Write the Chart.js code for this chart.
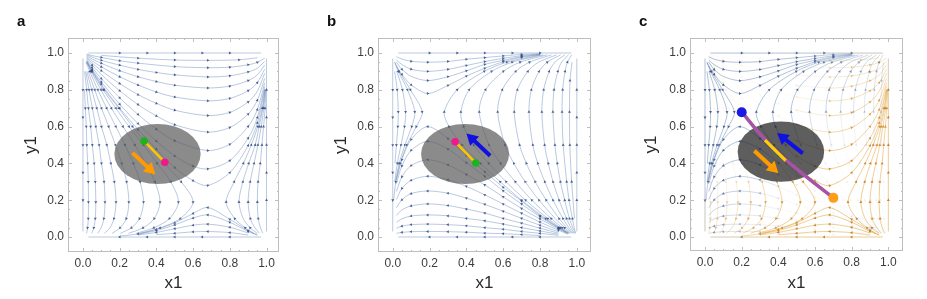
<!DOCTYPE html>
<html lang="en">
<head>
<meta charset="UTF-8">
<style>
  html, body { margin: 0; padding: 0; background: #fff; overflow: hidden; }
  .panel { position: absolute; top: 0; width: 300px; height: 299px; }
  .tag { position: absolute; top: 12px; font: bold 15px "Liberation Sans", Arial, sans-serif; color: #111; }
</style>
<title>Stream plots</title>
</head>
<body>
<div class="panel" style="left:0px"><canvas id="chartA"></canvas></div>
<div class="panel" style="left:310px"><canvas id="chartB"></canvas></div>
<div class="panel" style="left:620px"><canvas id="chartC"></canvas></div>
<div class="tag" style="left:17px">a</div>
<div class="tag" style="left:327px">b</div>
<div class="tag" style="left:639px">c</div>

<script src="https://cdn.jsdelivr.net/npm/chart.js"></script>
<script>
// ---- data ----
const tickValues = [0, 0.2, 0.4, 0.6, 0.8, 1.0];

// streamlines of panel a, each listed in the direction of flow
const streamsA = [
  [[0.03, 1], [0.2, 1], [0.35, 1], [0.5, 1], [0.65, 1], [0.8, 1], [0.97, 1]],
  [[0, 0.97], [0, 0.8], [0, 0.65], [0, 0.5], [0, 0.35], [0, 0.2], [0, 0.03]],
  [[1, 0.03], [1, 0.2], [1, 0.35], [1, 0.5], [1, 0.65], [1, 0.8], [1, 0.97]],
  [[0.97, 0], [0.8, 0], [0.65, 0], [0.5, 0], [0.35, 0], [0.2, 0], [0.03, 0]],
  // upper bowls
  [[0.1, 0.987], [0.3, 0.972], [0.5, 0.962], [0.68, 0.96], [0.85, 0.963], [0.95, 0.974]],
  [[0.02, 0.994], [0.05, 0.986], [0.1, 0.976], [0.2, 0.958], [0.3, 0.945], [0.5, 0.926], [0.68, 0.92], [0.8, 0.923], [0.9, 0.936], [0.95, 0.949], [0.99, 0.972]],
  [[0.02, 0.99], [0.05, 0.978], [0.1, 0.96], [0.2, 0.934], [0.3, 0.911], [0.4, 0.894], [0.5, 0.881], [0.68, 0.87], [0.8, 0.876], [0.9, 0.897], [0.95, 0.917], [0.99, 0.955]],
  [[0.02, 0.985], [0.05, 0.968], [0.1, 0.944], [0.2, 0.904], [0.3, 0.871], [0.4, 0.845], [0.5, 0.825], [0.68, 0.81], [0.8, 0.82], [0.9, 0.85], [0.95, 0.881], [0.99, 0.935]],
  [[0.02, 0.98], [0.05, 0.957], [0.1, 0.925], [0.2, 0.871], [0.3, 0.826], [0.4, 0.788], [0.5, 0.761], [0.68, 0.74], [0.8, 0.753], [0.9, 0.795], [0.95, 0.839], [0.99, 0.912]],
  [[0.02, 0.975], [0.05, 0.946], [0.1, 0.904], [0.2, 0.834], [0.3, 0.774], [0.4, 0.726], [0.5, 0.689], [0.68, 0.66], [0.8, 0.677], [0.9, 0.734], [0.95, 0.792], [0.99, 0.89]],
  [[0.02, 0.969], [0.05, 0.934], [0.1, 0.883], [0.2, 0.795], [0.3, 0.72], [0.4, 0.658], [0.5, 0.61], [0.68, 0.57], [0.8, 0.595], [0.9, 0.668], [0.95, 0.743], [0.99, 0.862]],
  [[0.02, 0.963], [0.05, 0.921], [0.1, 0.861], [0.2, 0.756], [0.3, 0.666], [0.4, 0.586], [0.5, 0.523], [0.68, 0.47], [0.8, 0.504], [0.9, 0.601], [0.95, 0.692], [0.99, 0.838]],
  [[0.02, 0.958], [0.05, 0.911], [0.1, 0.843], [0.2, 0.722], [0.3, 0.616], [0.4, 0.521], [0.5, 0.44], [0.6, 0.385], [0.68, 0.37], [0.8, 0.415], [0.9, 0.537], [0.95, 0.649], [0.99, 0.818]],
  [[0.02, 0.955], [0.05, 0.905], [0.1, 0.831], [0.2, 0.70], [0.3, 0.584], [0.4, 0.477], [0.5, 0.377], [0.6, 0.306], [0.68, 0.28], [0.8, 0.35], [0.9, 0.497], [0.95, 0.62], [0.99, 0.805]],
  // left arcs, running down
  [[0.008, 0.8], [0.013, 0.7], [0.018, 0.6], [0.021, 0.5], [0.026, 0.4], [0.029, 0.3], [0.03, 0.19], [0.029, 0.1], [0.025, 0.05], [0.02, 0.02]],
  [[0.009, 0.9], [0.02, 0.8], [0.03, 0.7], [0.042, 0.6], [0.051, 0.5], [0.061, 0.4], [0.067, 0.3], [0.07, 0.19], [0.067, 0.1], [0.059, 0.05], [0.048, 0.02]],
  [[0.015, 0.9], [0.033, 0.8], [0.051, 0.7], [0.07, 0.6], [0.088, 0.5], [0.101, 0.4], [0.115, 0.3], [0.12, 0.19], [0.114, 0.1], [0.099, 0.05], [0.08, 0.02]],
  [[0.021, 0.9], [0.048, 0.8], [0.075, 0.7], [0.101, 0.6], [0.13, 0.5], [0.152, 0.4], [0.171, 0.3], [0.18, 0.19], [0.169, 0.1], [0.147, 0.05], [0.117, 0.02]],
  [[0.028, 0.9], [0.064, 0.8], [0.101, 0.7], [0.14, 0.6], [0.177, 0.5], [0.211, 0.4], [0.238, 0.3], [0.25, 0.19], [0.236, 0.1], [0.202, 0.05], [0.159, 0.02]],
  [[0.016, 0.95], [0.037, 0.9], [0.081, 0.8], [0.129, 0.7], [0.179, 0.6], [0.229, 0.5], [0.275, 0.4], [0.311, 0.3], [0.33, 0.19], [0.308, 0.1], [0.264, 0.05], [0.204, 0.02]],
  [[0.019, 0.95], [0.044, 0.9], [0.098, 0.8], [0.155, 0.7], [0.218, 0.6], [0.283, 0.5], [0.34, 0.4], [0.392, 0.3], [0.42, 0.19], [0.388, 0.1], [0.327, 0.05], [0.248, 0.02]],
  [[0.021, 0.95], [0.048, 0.9], [0.11, 0.8], [0.179, 0.7], [0.251, 0.6], [0.33, 0.5], [0.404, 0.4], [0.478, 0.3], [0.52, 0.19], [0.471, 0.1], [0.386, 0.05], [0.29, 0.02]],
  [[0.022, 0.95], [0.051, 0.9], [0.116, 0.8], [0.195, 0.7], [0.27, 0.6], [0.354, 0.5], [0.443, 0.4], [0.535, 0.3], [0.6, 0.19], [0.53, 0.1], [0.42, 0.05], [0.31, 0.02]],
  // right arcs, running up
  [[0.98, 0.02], [0.967, 0.05], [0.955, 0.1], [0.95, 0.19], [0.954, 0.3], [0.966, 0.4], [0.975, 0.5], [0.984, 0.6], [0.992, 0.7], [0.996, 0.8]],
  [[0.962, 0.02], [0.937, 0.05], [0.912, 0.1], [0.9, 0.19], [0.911, 0.3], [0.932, 0.4], [0.953, 0.5], [0.971, 0.6], [0.985, 0.7], [0.994, 0.8]],
  [[0.95, 0.02], [0.911, 0.05], [0.873, 0.1], [0.85, 0.19], [0.871, 0.3], [0.903, 0.4], [0.938, 0.5], [0.96, 0.6], [0.98, 0.7], [0.992, 0.8]],
  [[0.93, 0.02], [0.884, 0.05], [0.827, 0.1], [0.78, 0.19], [0.824, 0.3], [0.874, 0.4], [0.917, 0.5], [0.952, 0.6], [0.976, 0.7], [0.991, 0.8]],
  // lower arches, running left
  [[0.95, 0.012], [0.9, 0.035], [0.8, 0.096], [0.68, 0.16], [0.6, 0.128], [0.5, 0.077], [0.4, 0.041], [0.3, 0.017], [0.2, 0.005]],
  [[0.95, 0.01], [0.9, 0.03], [0.8, 0.08], [0.68, 0.12], [0.6, 0.103], [0.5, 0.066], [0.4, 0.035], [0.3, 0.015]],
  [[0.9, 0.022], [0.8, 0.053], [0.68, 0.07], [0.6, 0.064], [0.5, 0.045], [0.4, 0.025], [0.3, 0.011]],
  [[0.9, 0.0105], [0.8, 0.024], [0.68, 0.03], [0.6, 0.028], [0.5, 0.02], [0.4, 0.0125]]
];
// panel b shows the same field mirrored about the diagonal y = x
const streamsB = streamsA.map(line => line.map(([x, y]) => [y, x]));

// grey ellipses: centre x, centre y, half width, half height
const ellipseA = [0.406, 0.451, 0.235, 0.163];
const ellipseB = [0.393, 0.451, 0.239, 0.163];
const ellipseC = [0.414, 0.464, 0.236, 0.164];

const dotsA = [[0.333, 0.522], [0.446, 0.406]];     // green, magenta
const arrowA = [[0.27, 0.457], [0.365, 0.368]];      // tail, head
const dotsB = [[0.339, 0.518], [0.451, 0.402]];     // magenta, green
const arrowB = [[0.529, 0.442], [0.43, 0.535]];
const saddleBlue = [0.2, 0.678];
const saddleOrange = [0.70, 0.213];
const pathC = [[0.2, 0.68], [0.3, 0.56], [0.4, 0.455], [0.5, 0.37], [0.6, 0.29], [0.7, 0.213]];
const segmentC = [[0.327, 0.527], [0.44, 0.415]];
const arrowCBlue = [[0.533, 0.455], [0.425, 0.54]];
const arrowCOrange = [[0.269, 0.469], [0.37, 0.375]];

// ---- drawing ----
Chart.defaults.font.family = '"Liberation Sans", Arial, sans-serif';

const BLUE = '94,129,181', BLUE_DARK = '52,78,135';
const ORANGE = '225,156,36', ORANGE_DARK = '205,125,20';
const ARROW_GAP = 0.085;   // spacing of the little arrowheads along a streamline

function heading(line, i) {
  const p = line[Math.max(i - 1, 0)], q = line[Math.min(i + 1, line.length - 1)];
  return Math.atan2(q[0] - p[0], q[1] - p[1]) * 180 / Math.PI;
}

// marks the points at which a new arrowhead is due, spaced by arc length
function arrowMarks(line) {
  const marks = line.map(() => false);
  let s = 0;
  for (let i = 1; i < line.length - 1; i++) {
    const prev = s;
    s += Math.hypot(line[i][0] - line[i - 1][0], line[i][1] - line[i - 1][1]);
    if (Math.floor((s + ARROW_GAP / 2) / ARROW_GAP) > Math.floor((prev + ARROW_GAP / 2) / ARROW_GAP)) marks[i] = true;
  }
  return marks;
}

function blueShare(x, y) {
  const db = (x - saddleBlue[0]) ** 2 + (y - saddleBlue[1]) ** 2;
  const dor = (x - saddleOrange[0]) ** 2 + (y - saddleOrange[1]) ** 2;
  return dor * dor / (db * db + dor * dor);
}

function streamSets(lines, rgb, dark, weight) {
  return lines.map(line => {
    const marks = arrowMarks(line);
    const ds = {
      data: line.map(([x, y]) => ({ x, y })),
      showLine: true,
      tension: 0.3,
      borderWidth: 0.7,
      borderColor: `rgba(${rgb},0.62)`,
      pointStyle: 'triangle',
      pointBorderWidth: 0,
      pointRadius: c => marks[c.dataIndex] ? 1.7 : 0,
      pointRotation: c => heading(line, c.dataIndex),
      pointBackgroundColor: c => {
        const p = line[c.dataIndex];
        const a = weight ? 0.06 + 0.8 * weight(p[0], p[1]) : 0.85;
        return `rgba(${dark},${a.toFixed(3)})`;
      },
      order: 10
    };
    if (weight) {
      ds.segment = {
        borderColor: c => {
          const p = line[c.p0DataIndex], q = line[c.p1DataIndex];
          const a = 0.05 + 0.65 * weight((p[0] + q[0]) / 2, (p[1] + q[1]) / 2);
          return `rgba(${rgb},${a.toFixed(3)})`;
        }
      };
    }
    return ds;
  });
}

function lineSet(points, color, width, order) {
  return {
    data: points.map(([x, y]) => ({ x, y })),
    showLine: true, tension: 0.4, borderColor: color, borderWidth: width,
    pointRadius: 0, order: order, overlay: true
  };
}

function dotSet(points, colors, radius) {
  return {
    data: points.map(([x, y]) => ({ x, y })),
    showLine: false, pointRadius: radius, pointBackgroundColor: colors,
    pointBorderWidth: 0, order: 0, overlay: true
  };
}

function arrowSet(arrow, color) {
  const [t, h] = arrow;
  return {
    data: [{ x: t[0], y: t[1] }, { x: h[0], y: h[1] }],
    showLine: true, borderColor: color, borderWidth: 4, borderCapStyle: 'butt',
    pointRadius: [0, 7.5], pointStyle: 'triangle',
    pointRotation: Math.atan2(h[0] - t[0], h[1] - t[1]) * 180 / Math.PI,
    pointBackgroundColor: color, pointBorderWidth: 0, order: 1, overlay: true
  };
}

const overlayPlugin = {
  id: 'overlay',
  beforeDatasetsDraw(chart) { chart.$ellipseDone = false; },
  beforeDatasetDraw(chart, args, opts) {
    const ds = chart.data.datasets[args.index];
    if (!ds.overlay || chart.$ellipseDone) return;
    chart.$ellipseDone = true;
    const { x: sx, y: sy } = chart.scales;
    const [cx, cy, rx, ry] = opts.ellipse;
    const px = sx.getPixelForValue(cx), py = sy.getPixelForValue(cy);
    const prx = Math.abs(sx.getPixelForValue(cx + rx) - px);
    const pry = Math.abs(sy.getPixelForValue(cy + ry) - py);
    const ctx = chart.ctx;
    ctx.save();
    ctx.beginPath();
    ctx.ellipse(px, py, prx, pry, 0, 0, 2 * Math.PI);
    ctx.fillStyle = opts.fill;
    ctx.fill();
    ctx.restore();
  },
  afterDraw(chart) {
    const { ctx, chartArea: a, scales: { x: sx, y: sy } } = chart;
    ctx.save();
    ctx.strokeStyle = '#bdbdbd';
    ctx.lineWidth = 1;
    ctx.strokeRect(Math.round(a.left) + 0.5, Math.round(a.top) + 0.5,
      Math.round(a.right - a.left) - 1, Math.round(a.bottom - a.top) - 1);
    ctx.beginPath();
    for (let i = 0; i <= 20; i++) {
      const v = i / 20, len = i % 4 === 0 ? 4 : 2;
      const px = Math.round(sx.getPixelForValue(v)) + 0.5;
      const py = Math.round(sy.getPixelForValue(v)) + 0.5;
      ctx.moveTo(px, a.bottom); ctx.lineTo(px, a.bottom - len);
      ctx.moveTo(px, a.top); ctx.lineTo(px, a.top + len);
      ctx.moveTo(a.left, py); ctx.lineTo(a.left + len, py);
      ctx.moveTo(a.right, py); ctx.lineTo(a.right - len, py);
    }
    ctx.stroke();
    ctx.restore();
  }
};

function axis(name, range, size, titlePad) {
  return {
    type: 'linear', min: range[0], max: range[1],
    grid: { display: false, drawTicks: false }, border: { display: false },
    afterBuildTicks: s => { s.ticks = tickValues.map(v => ({ value: v })); },
    afterFit: s => { if (s.isHorizontal()) s.height = size; else s.width = size; },
    ticks: { autoSkip: false, maxRotation: 0, padding: 4, color: '#3c3c3c', font: { size: 12 },
             callback: v => v.toFixed(1) },
    title: { display: true, text: name, color: '#2a2a2a', font: { size: 17 }, padding: titlePad }
  };
}

function makePanel(id, cfg) {
  return new Chart(document.getElementById(id), {
    type: 'scatter',
    data: { datasets: cfg.datasets },
    options: {
      responsive: true, maintainAspectRatio: false, animation: false, events: [],
      layout: { padding: cfg.padding },
      plugins: {
        legend: { display: false }, tooltip: { enabled: false },
        overlay: { ellipse: cfg.ellipse, fill: cfg.fill }
      },
      scales: {
        x: axis('x1', cfg.xRange, cfg.xHeight, { top: 0, bottom: 5 }),
        y: axis('y1', cfg.yRange, cfg.yWidth, { top: 1.5, bottom: 0 })
      }
    },
    plugins: [overlayPlugin]
  });
}

makePanel('chartA', {
  padding: { left: 20, top: 38, right: 21, bottom: 0 }, yWidth: 48, xHeight: 47,
  xRange: [-0.0815, 1.068], yRange: [-0.0815, 1.0815],
  ellipse: ellipseA, fill: 'rgba(90,90,90,0.7)',
  datasets: [
    ...streamSets(streamsA, BLUE, BLUE_DARK),
    lineSet(dotsA, '#ffc400', 2.6, 2),
    arrowSet(arrowA, '#ff9a00'),
    dotSet(dotsA, ['#1db31d', '#f0188a'], 3.8)
  ]
});

makePanel('chartB', {
  padding: { left: 20, top: 38, right: 19, bottom: 0 }, yWidth: 48, xHeight: 47,
  xRange: [-0.08, 1.077], yRange: [-0.0815, 1.0815],
  ellipse: ellipseB, fill: 'rgba(90,90,90,0.7)',
  datasets: [
    ...streamSets(streamsB, BLUE, BLUE_DARK),
    lineSet(dotsB, '#ffc400', 2.6, 2),
    arrowSet(arrowB, '#1010e0'),
    dotSet(dotsB, ['#f0188a', '#1db31d'], 3.8)
  ]
});

makePanel('chartC', {
  padding: { left: 20, top: 38, right: 17, bottom: 0 }, yWidth: 50, xHeight: 48,
  xRange: [-0.082, 1.08], yRange: [-0.076, 1.082],
  ellipse: ellipseC, fill: 'rgba(40,40,40,0.75)',
  datasets: [
    ...streamSets(streamsB, BLUE, BLUE_DARK, blueShare),
    ...streamSets(streamsA, ORANGE, ORANGE_DARK, (x, y) => 1 - blueShare(x, y)),
    lineSet(pathC, '#a653a6', 3.5, 3),
    lineSet(segmentC, '#ffd000', 3, 2),
    arrowSet(arrowCBlue, '#1010e0'),
    arrowSet(arrowCOrange, '#ff9a00'),
    dotSet([saddleBlue, saddleOrange], ['#1a1ae6', '#ff9c1a'], 5)
  ]
});
</script>
</body>
</html>
